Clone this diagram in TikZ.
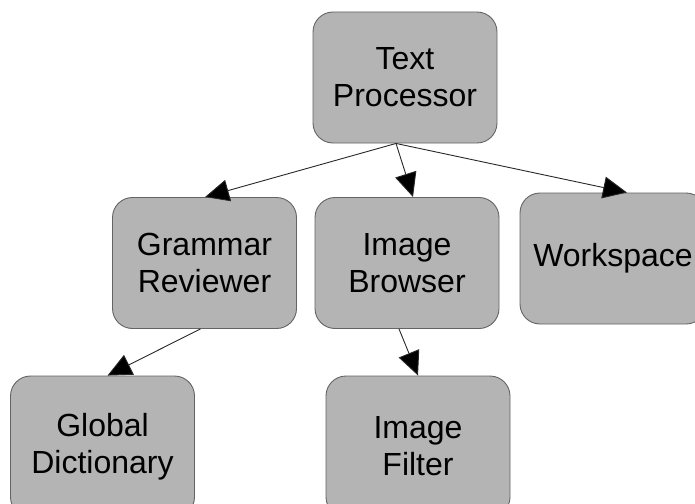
\documentclass[tikz,border=0pt]{standalone}
\usepackage{fontspec}
\setmainfont{Liberation Sans}
\usetikzlibrary{arrows.meta,calc}
\definecolor{boxfill}{RGB}{180,180,180}
\definecolor{boxline}{RGB}{100,100,100}
\definecolor{linecol}{RGB}{40,40,40}
\tikzset{
  modbox/.style={draw=boxline, line width=0.9pt, fill=boxfill, rounded corners=20pt,
    minimum width=184pt, minimum height=131pt, inner sep=0pt, align=center,
    font=\fontsize{32}{37}\selectfont},
  lowbox/.style={modbox, minimum height=141pt},
  conn/.style={draw=linecol, line width=0.9pt, -{Triangle[length=24pt,width=22pt,fill=black]}}
}
\begin{document}
\begin{tikzpicture}[x=1pt,y=-1pt]
\useasboundingbox (0,0) rectangle (695,503);
\begin{scope}
\clip (0,0) rectangle (695,503);
\node[modbox] (tp) at (405,77.5) {Text\\Processor};
\node[modbox] (gr) at (204.5,263) {Grammar\\Reviewer};
\node[modbox] (ib) at (407,263) {Image\\Browser};
\node[modbox, minimum width=186pt] (ws) at (613,258.5) {Workspace};
\node[lowbox] (gd) at (102.5,446.5) {Global\\Dictionary};
\node[lowbox] (if) at (418,446.5) {Image\\Filter};
\coordinate (tpo) at ($(tp.south)+(-9,0)$);
\draw[conn] (tpo) -- ($(gr.north)+(0.5,0)$);
\draw[conn] (tpo) -- ($(ib.north)+(6,0)$);
\draw[conn] (tpo) -- ($(ws.north)+(14,0)$);
\draw[conn] ($(gr.south)+(-4,0)$) -- ($(gd.north)+(5,0)$);
\draw[conn] ($(ib.south)+(-8,0)$) -- (if.north);
\end{scope}
\end{tikzpicture}
\end{document}
